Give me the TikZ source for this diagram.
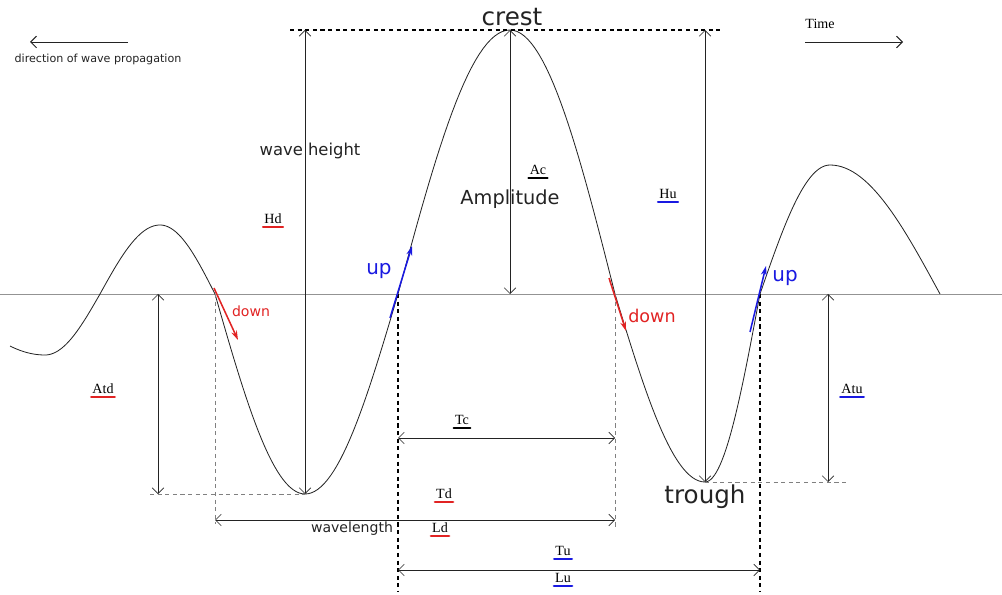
\documentclass[tikz,border=0pt]{standalone}
\usepackage{fontspec}
\setmainfont{DejaVu Sans}
\newfontfamily\timesfont{Liberation Serif}
\usetikzlibrary{arrows.meta}

\definecolor{upblue}{RGB}{25,25,225}
\definecolor{downred}{RGB}{225,35,35}
\definecolor{ink}{RGB}{35,35,35}

\tikzset{
  wave/.style={ink, line width=0.7pt},
  level/.style={gray!85, line width=0.6pt},
  dim/.style={{Straight Barb[length=5pt]}-{Straight Barb[length=5pt]}, ink, line width=0.5pt},
  guide/.style={dash pattern=on 3.5pt off 3pt, gray, line width=0.5pt},
  period/.style={dash pattern=on 3.5pt off 3pt, black, line width=0.9pt},
  tag/.style={font=\timesfont\fontsize{12}{14}\selectfont, inner sep=1pt},
  tagline/.style={line width=1.8pt, line cap=round},
  move/.style={-{Stealth[length=8pt,width=5pt]}, line width=1.3pt},
  word/.style={ink, inner sep=1pt},
}

\begin{document}
\begin{tikzpicture}[x=0.03cm, y=-0.03cm]
  \useasboundingbox (0,0) rectangle (1002,595);

  % crests, troughs and zero crossings
  \coordinate (c1) at (160,225);
  \coordinate (z1) at (215,294);
  \coordinate (t1) at (305,494);
  \coordinate (z2) at (398,294);
  \coordinate (c2) at (510,30);
  \coordinate (z3) at (615,294);
  \coordinate (t2) at (705,482);
  \coordinate (z4) at (760,294);
  \coordinate (c3) at (830,165);

  % still water level
  \draw[level] (0,294) -- (1002,294);

  % the wave, one quarter at a time
  \draw[wave] plot[domain=10:45, samples=20] (\x,{294+61*cos(90*(\x-45)/100)});
  \foreach \xe/\ye/\xc in {45/355/100, 160/225/100, 160/225/215, 305/494/215,
                           305/494/398, 510/30/398, 510/30/615, 705/482/615,
                           705/482/760, 830/165/760, 830/165/940}
    \draw[wave] plot[domain=\xe:\xc, samples=30]
      (\x,{294+(\ye-294)*cos(90*(\x-\xe)/(\xc-\xe))});

  % guide lines
  \coordinate (topl) at (290,30);
  \coordinate (topr) at (720,30);
  \draw[period] (topl) -- (topr);
  \coordinate (lowl) at (150,494);
  \draw[guide] (lowl) -- (t1);
  \coordinate (lowr) at (848,482);
  \draw[guide] (t2) -- (lowr);
  \coordinate (z1b) at (215,524);
  \coordinate (z3b) at (615,530);
  \draw[guide] (z1) -- (z1b);
  \draw[guide] (z3) -- (z3b);
  \coordinate (z2b) at (398,592);
  \coordinate (z4b) at (760,592);
  \draw[period] (z2) -- (z2b);
  \draw[period] (z4) -- (z4b);

  % heights and amplitudes
  \coordinate (hd) at (305,30);
  \draw[dim] (hd) -- (t1);
  \coordinate (ac) at (510,294);
  \draw[dim] (c2) -- (ac);
  \coordinate (hu) at (705,30);
  \draw[dim] (hu) -- (t2);
  \coordinate (atd1) at (158,294);
  \coordinate (atd2) at (158,494);
  \draw[dim] (atd1) -- (atd2);
  \coordinate (atu1) at (828,294);
  \coordinate (atu2) at (828,482);
  \draw[dim] (atu1) -- (atu2);

  % periods and lengths
  \coordinate (tc1) at (398,438);
  \coordinate (tc2) at (615,438);
  \draw[dim] (tc1) -- (tc2);
  \coordinate (wl1) at (215,520);
  \coordinate (wl2) at (615,520);
  \draw[dim] (wl1) -- (wl2);
  \coordinate (tu1) at (398,570);
  \coordinate (tu2) at (760,570);
  \draw[dim] (tu1) -- (tu2);

  % motion of the surface
  \coordinate (d1a) at (214,288);
  \coordinate (d1b) at (238,340);
  \draw[move, downred] (d1a) -- (d1b);
  \coordinate (d2a) at (609,278);
  \coordinate (d2b) at (626,331);
  \draw[move, downred] (d2a) -- (d2b);
  \coordinate (u1a) at (390,318);
  \coordinate (u1b) at (412,246);
  \draw[move, upblue] (u1a) -- (u1b);
  \coordinate (u2a) at (750,332);
  \coordinate (u2b) at (766,266);
  \draw[move, upblue] (u2a) -- (u2b);

  % words
  \node[word, font=\fontsize{21}{24}\selectfont] (crest) at (512,17) {crest};
  \node[word, font=\fontsize{21}{24}\selectfont] (trough) at (705,497) {trough};
  \node[word, font=\fontsize{14}{16}\selectfont] (height) at (310,151) {wave height};
  \node[word, font=\fontsize{16.5}{18}\selectfont] (ampl) at (510,199) {Amplitude};
  \node[word, font=\fontsize{12}{14}\selectfont] (wlen) at (352,529) {wavelength};
  \node[downred, inner sep=1pt, font=\fontsize{12}{14}\selectfont] (down1) at (251,311) {down};
  \node[downred, inner sep=1pt, font=\fontsize{15}{17}\selectfont] (down2) at (652,316) {down};
  \node[upblue, inner sep=1pt, font=\fontsize{17}{19}\selectfont] (up1) at (379,271) {up};
  \node[upblue, inner sep=1pt, font=\fontsize{17}{19}\selectfont] (up2) at (785,278) {up};

  % propagation and time
  \coordinate (dira) at (128,42);
  \coordinate (dirb) at (30,42);
  \draw[-{Straight Barb[length=5pt]}, ink, line width=0.8pt] (dira) -- (dirb);
  \node[word, font=\fontsize{9.5}{11}\selectfont] (dir) at (98,59) {direction of wave propagation};
  \coordinate (tima) at (805,42);
  \coordinate (timb) at (903,42);
  \draw[-{Straight Barb[length=5pt]}, ink, line width=0.8pt] (tima) -- (timb);
  \node[tag] (time) at (820,24) {Time};

  % parameter names
  \foreach \n/\x/\y/\t/\c in {ac/538/170/Ac/black, hd/273/219/Hd/downred,
      hu/668/194/Hu/upblue, atd/103/389/Atd/downred, atu/852/389/Atu/upblue,
      tc/462/420/Tc/black, td/444/494/Td/downred, ld/440/528/Ld/downred,
      tu/563/551/Tu/upblue, lu/563/578/Lu/upblue} {
    \node[tag] (\n-tag) at (\x,\y) {\t};
    \draw[tagline, \c] ([yshift=-1.5pt]\n-tag.south west) -- ([yshift=-1.5pt]\n-tag.south east);
  }
\end{tikzpicture}
\end{document}
